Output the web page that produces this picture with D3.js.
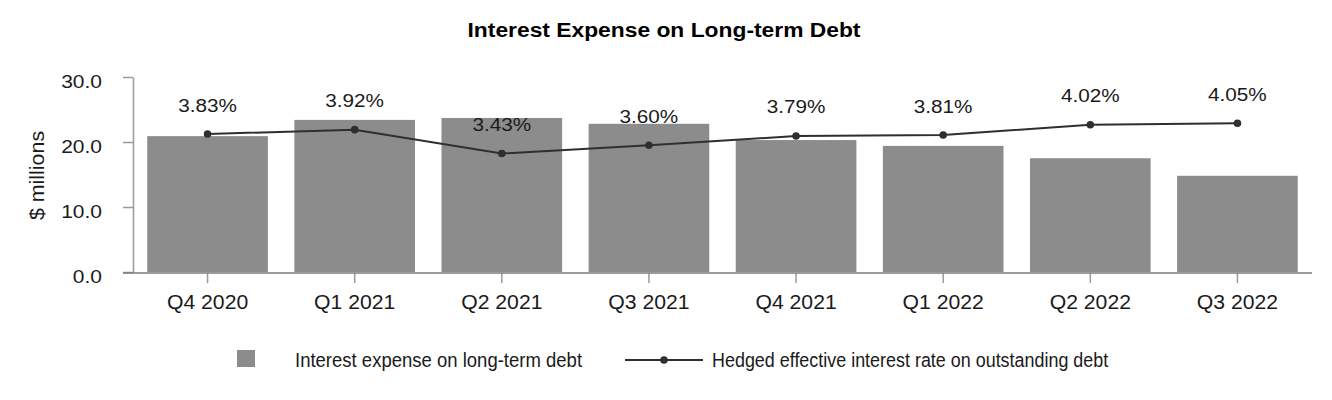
<!DOCTYPE html>
<html><head><meta charset="utf-8">
<script src="https://cdn.jsdelivr.net/npm/d3@7"></script>
<style>body{margin:0;background:#fff}svg{display:block;font-family:"Liberation Sans",Arial,Helvetica,sans-serif}</style>
</head><body><svg id="c" width="1332" height="400"></svg>
<script>
const categories = ["Q4 2020","Q1 2021","Q2 2021","Q3 2021","Q4 2021","Q1 2022","Q2 2022","Q3 2022"];
const expense = [20.9, 23.4, 23.7, 22.8, 20.3, 19.4, 17.5, 14.8];
const rates = [3.83, 3.92, 3.43, 3.60, 3.79, 3.81, 4.02, 4.05];
const yTicks = [0, 10, 20, 30];
const rateDomain = [1, 5];
const title = "Interest Expense on Long-term Debt";
const yTitle = "$ millions";
const legendLabels = ["Interest expense on long-term debt", "Hedged effective interest rate on outstanding debt"];

const BAR = "#8c8c8c", LINE = "#2f2f2f", TXT = "#1a1a1a", AX = "#9a9a9a";
const svg = d3.select("#c");

const x = d3.scaleBand().domain(categories).range([134, 1311]).paddingInner(0.18).paddingOuter(0.09);
const y = d3.scaleLinear().domain([0, 30]).range([272, 77]);
const y2 = d3.scaleLinear().domain(rateDomain).range([272, 77]);

function label(g, px, py, str, o) {
  return g.append("text")
    .attr("transform", `translate(${px},${py})${o.rot ? ` rotate(${o.rot})` : ""} scale(${o.sx || 1},1)`)
    .attr("text-anchor", o.anchor || "middle")
    .attr("font-size", o.size)
    .attr("font-weight", o.weight || "normal")
    .attr("fill", o.fill || TXT)
    .text(str);
}

// title
label(svg, 664, 37, title, {size: 19.5, sx: 1.17, weight: "bold", fill: "#000"});

// bars
svg.append("g").selectAll("rect").data(categories).join("rect")
  .attr("x", d => x(d)).attr("width", x.bandwidth())
  .attr("y", (d, i) => y(expense[i])).attr("height", (d, i) => y(0) - y(expense[i]))
  .attr("fill", BAR);

// left axis
const gy = svg.append("g").attr("transform", `translate(${x.range()[0] - 1},0)`)
  .call(d3.axisLeft(y).tickValues(yTicks).tickFormat(d3.format(".1f")).tickSize(10).tickSizeOuter(0));
gy.select(".domain").attr("stroke", AX).attr("stroke-width", 1.5);
gy.selectAll(".tick line").attr("stroke", AX).attr("stroke-width", 1.5);
gy.selectAll(".tick text").attr("x", null).attr("dy", null).attr("y", null)
  .attr("transform", "translate(-31,10) scale(1.13,1)")
  .attr("font-size", 18.6).attr("font-family", null).attr("fill", TXT);

// bottom axis
const gx = svg.append("g").attr("transform", `translate(0,${y(0) + 1})`)
  .call(d3.axisBottom(x).tickSize(10).tickSizeOuter(0));
gx.select(".domain").remove();
gx.append("line").attr("x1", x.range()[0] - 11).attr("x2", x.range()[1] + 1)
  .attr("stroke", "#7a7a7a").attr("stroke-width", 1.5);
gx.selectAll(".tick line").attr("stroke", AX).attr("stroke-width", 1.5);
gx.selectAll(".tick text").attr("dy", null).attr("y", 36)
  .attr("transform", "scale(1.06,1)")
  .attr("font-size", 20).attr("font-family", null).attr("fill", TXT);

// y title
label(svg, 44, (y.range()[0] + y.range()[1]) / 2 + 1, yTitle, {size: 20, sx: 1.07, rot: -90});

// rate line
const cx = c => x(c) + x.bandwidth() / 2;
const line = d3.line().x((d, i) => cx(categories[i])).y(d => y2(d));
svg.append("path").datum(rates).attr("d", line)
  .attr("fill", "none").attr("stroke", LINE).attr("stroke-width", 2);
svg.append("g").selectAll("circle").data(rates).join("circle")
  .attr("cx", (d, i) => cx(categories[i])).attr("cy", d => y2(d)).attr("r", 3.8).attr("fill", LINE);
const gl = svg.append("g");
rates.forEach((r, i) => label(gl, cx(categories[i]), y2(r) - 22.5, r.toFixed(2) + "%", {size: 18.5, sx: 1.12}));

// legend
const lg = svg.append("g");
lg.append("rect").attr("x", 237).attr("y", 350).attr("width", 18).attr("height", 17).attr("fill", BAR);
label(lg, 295, 366.7, legendLabels[0], {size: 19.5, sx: 0.95, anchor: "start"});
lg.append("line").attr("x1", 625).attr("x2", 703).attr("y1", 360).attr("y2", 360).attr("stroke", LINE).attr("stroke-width", 2);
lg.append("circle").attr("cx", 664).attr("cy", 360).attr("r", 3.8).attr("fill", LINE);
label(lg, 712, 366.7, legendLabels[1], {size: 19.5, sx: 0.92, anchor: "start"});
</script></body></html>
